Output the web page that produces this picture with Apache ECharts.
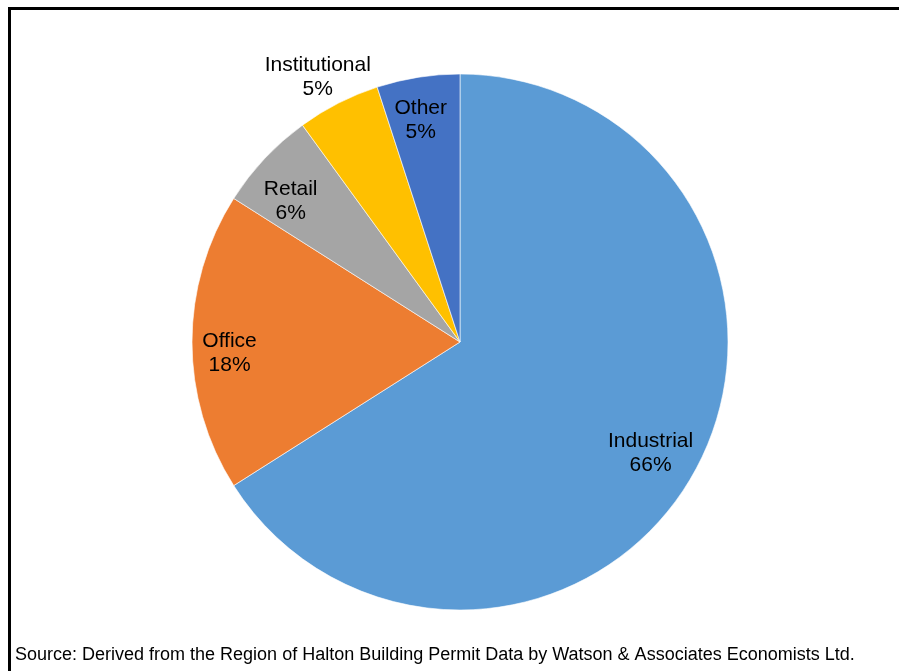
<!DOCTYPE html>
<html>
<head>
<meta charset="utf-8">
<script src="https://cdn.jsdelivr.net/npm/echarts@6/dist/echarts.min.js"></script>
<style>
  html, body { margin: 0; padding: 0; background: #fff; }
  #chart { width: 899px; height: 671px; }
</style>
</head>
<body>
<div id="chart"></div>
<script>
// Share of building permit value by sector
const categories = ['Industrial', 'Office', 'Retail', 'Institutional', 'Other'];
const shares = [66, 18, 6, 5, 5];
const colors = ['#5B9BD5', '#ED7D31', '#A5A5A5', '#FFC000', '#4472C4'];
// Categories whose label sits outside the pie
const outsideLabels = ['Institutional'];
const sourceNote = 'Source: Derived from the Region of Halton Building Permit Data by Watson & Associates Economists Ltd.';

const FONT = 'Liberation Sans, Arial, sans-serif';
const center = [460, 342];
const R = 268;
// Small hand nudges for label placement, by category
const labelNudge = {
  Industrial: [-7, 3], Office: [-5, 11], Retail: [-5, 14],
  Institutional: [-4, 7], Other: [-4, 1]
};

const pieData = categories.map((name, i) => ({
  name, value: shares[i], itemStyle: { color: colors[i] }
}));

const labelStyle = {
  fontFamily: FONT, fontSize: 21, color: '#000', lineHeight: 24,
  formatter: p => p.name + '\n' + p.value + '%'
};

// Transparent ring used only to carry labels at a chosen radius
function labelRing(radius, showFn) {
  return {
    type: 'pie', center, radius, startAngle: 90, clockwise: true,
    silent: true, animation: false,
    itemStyle: { color: 'rgba(0,0,0,0)', borderWidth: 0 },
    emphasis: { disabled: true },
    labelLine: { show: false },
    labelLayout: p => {
      const n = labelNudge[categories[p.dataIndex]] || [0, 0];
      return { dx: n[0], dy: n[1] };
    },
    data: categories.map((name, i) => ({
      name, value: shares[i],
      label: Object.assign({ show: showFn(name), position: 'inside' }, labelStyle)
    }))
  };
}

const chart = echarts.init(document.getElementById('chart'), null, { renderer: 'canvas' });
chart.setOption({
  backgroundColor: '#fff',
  animation: false,
  series: [
    {
      type: 'pie', center, radius: [0, R], startAngle: 90, clockwise: true,
      silent: true,
      itemStyle: { borderColor: '#fff', borderWidth: 0.6 },
      label: { show: false }, labelLine: { show: false },
      emphasis: { disabled: true },
      data: pieData
    },
    labelRing([R * 0.66, R], n => !outsideLabels.includes(n)),
    labelRing([R, R * 1.25], n => outsideLabels.includes(n))
  ],
  graphic: [
    { type: 'rect', shape: { x: 8, y: 7, width: 891, height: 3 }, style: { fill: '#000' } },
    { type: 'rect', shape: { x: 8, y: 7, width: 3, height: 664 }, style: { fill: '#000' } },
    {
      type: 'text', left: 15, top: 646,
      style: { text: sourceNote, font: '18px ' + FONT, fill: '#000' }
    }
  ]
});
</script>
</body>
</html>
